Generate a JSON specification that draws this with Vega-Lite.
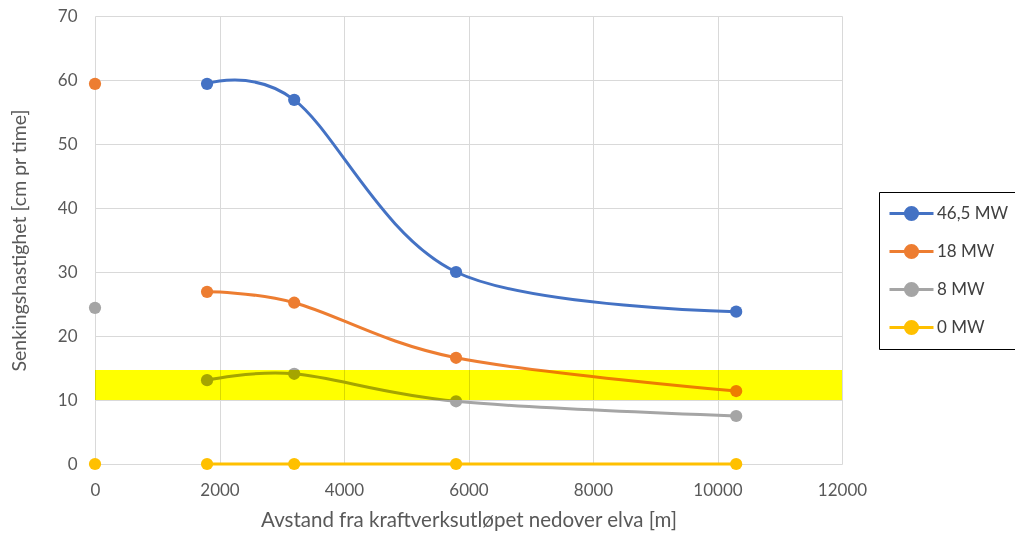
{
  "$schema": "https://vega.github.io/schema/vega-lite/v6.json",
  "width": 747,
  "height": 448,
  "autosize": {"type": "none"},
  "padding": {"left": 95, "top": 16, "right": 173, "bottom": 72},
  "background": "white",
  "config": {
    "font": "Lato",
    "view": {"stroke": null},
    "axis": {
      "grid": true,
      "gridColor": "#D9D9D9",
      "gridWidth": 1,
      "domain": false,
      "ticks": false,
      "labelFlush": false,
      "labelFont": "Lato",
      "labelFontSize": 17,
      "labelColor": "#595959",
      "titleFont": "Lato",
      "titleFontSize": 20.5,
      "titleFontWeight": "normal",
      "titleColor": "#595959"
    }
  },
  "datasets": {
    "series": [
      {"x": 1800, "y": 59.4, "s": "46,5 MW"},
      {"x": 3200, "y": 56.9, "s": "46,5 MW"},
      {"x": 5800, "y": 30.0, "s": "46,5 MW"},
      {"x": 10300, "y": 23.8, "s": "46,5 MW"},
      {"x": 0, "y": 59.4, "s": "18 MW"},
      {"x": 1800, "y": 26.9, "s": "18 MW"},
      {"x": 3200, "y": 25.2, "s": "18 MW"},
      {"x": 5800, "y": 16.6, "s": "18 MW"},
      {"x": 10300, "y": 11.4, "s": "18 MW"},
      {"x": 0, "y": 24.4, "s": "8 MW"},
      {"x": 1800, "y": 13.1, "s": "8 MW"},
      {"x": 3200, "y": 14.1, "s": "8 MW"},
      {"x": 5800, "y": 9.8, "s": "8 MW"},
      {"x": 10300, "y": 7.5, "s": "8 MW"},
      {"x": 0, "y": 0, "s": "0 MW"},
      {"x": 1800, "y": 0, "s": "0 MW"},
      {"x": 3200, "y": 0, "s": "0 MW"},
      {"x": 5800, "y": 0, "s": "0 MW"},
      {"x": 10300, "y": 0, "s": "0 MW"}
    ],
    "band": [{"lo": 10, "hi": 14.7}]
  },
  "encoding": {
    "x": {
      "field": "x", "type": "quantitative",
      "scale": {"domain": [0, 12000], "nice": false, "zero": false},
      "axis": {"values": [0, 2000, 4000, 6000, 8000, 10000, 12000], "format": "d", "labelPadding": 18, "titlePadding": 12, "title": "Avstand fra kraftverksutløpet nedover elva [m]"}
    },
    "y": {
      "field": "y", "type": "quantitative",
      "scale": {"domain": [0, 70], "nice": false},
      "axis": {"values": [0, 10, 20, 30, 40, 50, 60, 70], "labelPadding": 18, "titlePadding": 28, "titleFontSize": 19.5, "title": "Senkingshastighet [cm pr time]"}
    },
    "color": {
      "field": "s", "type": "nominal",
      "scale": {"domain": ["46,5 MW", "18 MW", "8 MW", "0 MW"], "range": ["#4472C4", "#ED7D31", "#A5A5A5", "#FFC000"]},
      "legend": {
        "title": null,
        "orient": "none",
        "legendX": 784,
        "legendY": 176,
        "strokeColor": "#000000",
        "fillColor": "#FFFFFF",
        "padding": 9,
        "symbolType": "M -2 0 L 2 0 M -0.55 0 A 0.55 0.55 0 1 1 0.55 0 A 0.55 0.55 0 1 1 -0.55 0",
        "symbolSize": 484,
        "symbolOffset": 11,
        "symbolStrokeWidth": 3,
        "labelOffset": 13,
        "labelFont": "Lato",
        "labelFontSize": 17,
        "labelColor": "#404040",
        "rowPadding": 13,
        "labelLimit": 200,
        "encode": {
          "symbols": {
            "update": {
              "stroke": {"scale": "color", "field": "value"},
              "fill": {"scale": "color", "field": "value"},
              "strokeWidth": {"value": 3},
              "opacity": {"value": 1}
            }
          }
        }
      }
    }
  },
  "layer": [
    {
      "data": {"name": "series"},
      "transform": [{"filter": "datum.x > 0"}],
      "mark": {"type": "line", "interpolate": "cardinal", "tension": 0, "strokeWidth": 3},
      "encoding": {"detail": {"field": "s"}}
    },
    {
      "data": {"name": "series"},
      "mark": {"type": "point", "filled": true, "size": 150, "opacity": 1, "shape": "circle"}
    },
    {
      "data": {"name": "band"},
      "mark": {"type": "rect", "color": "#FFFF00", "blend": "multiply"},
      "encoding": {
        "x": {"value": 0},
        "x2": {"value": 747},
        "y": {"field": "lo", "type": "quantitative"},
        "y2": {"field": "hi"},
        "color": null
      }
    }
  ]
}
